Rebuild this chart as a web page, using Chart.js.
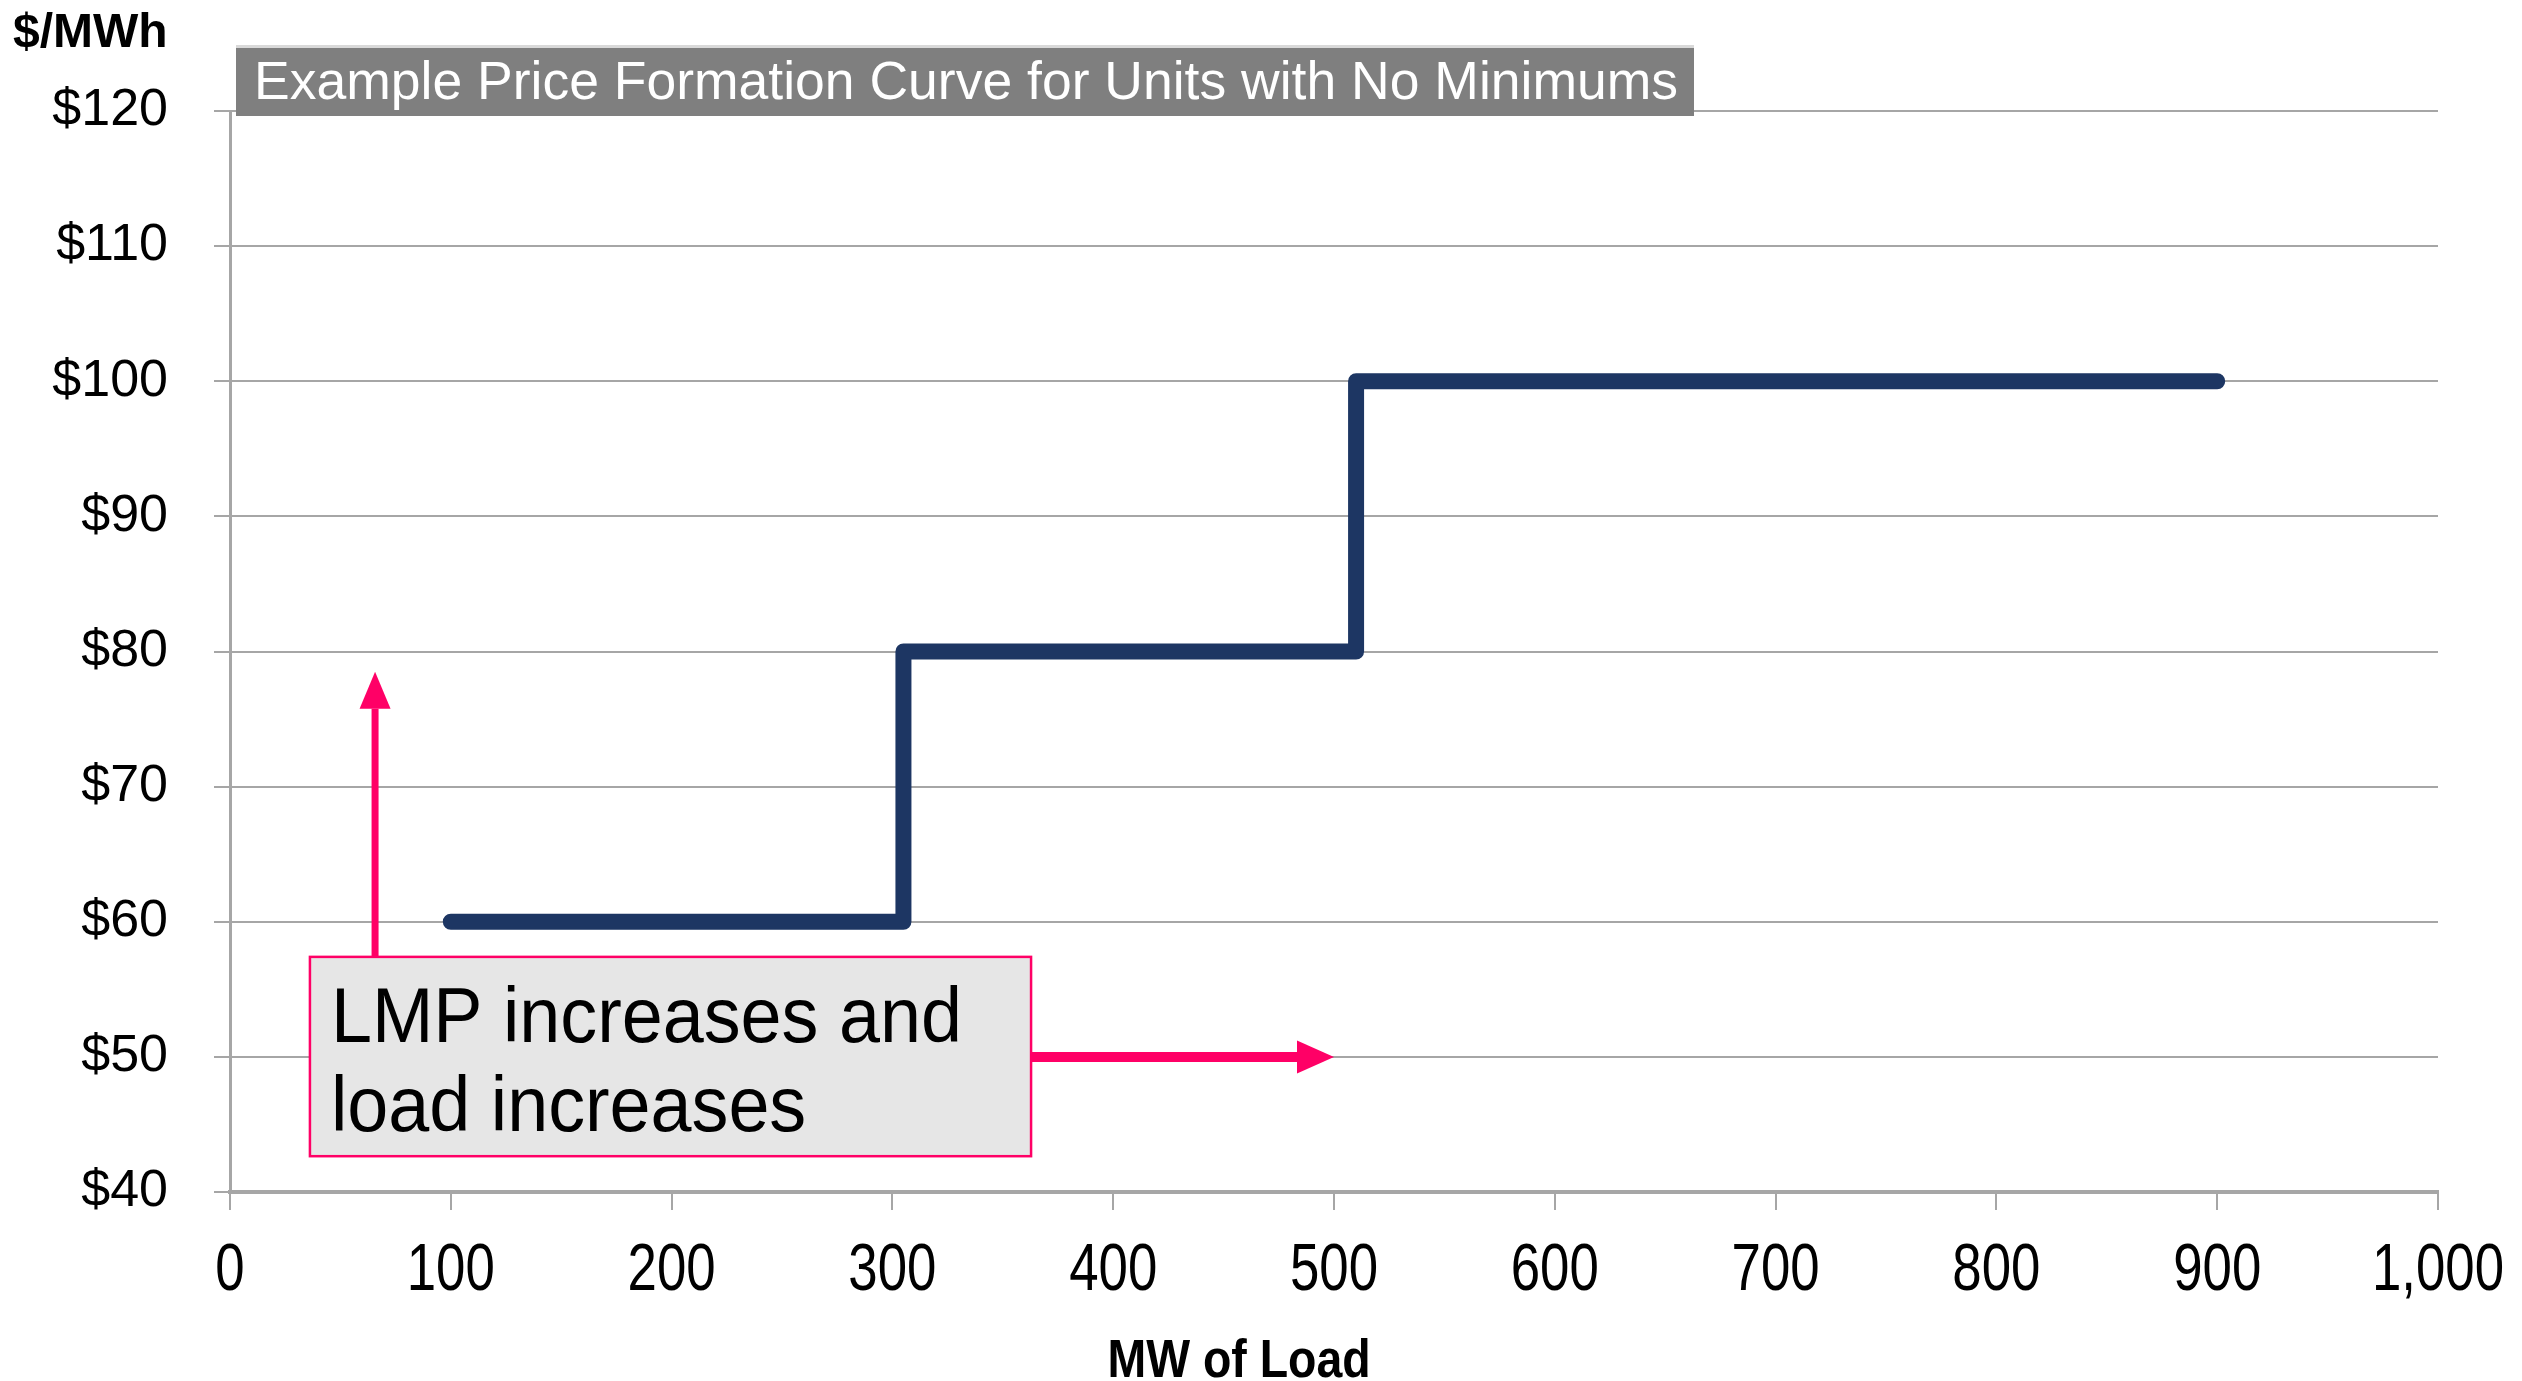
<!DOCTYPE html>
<html>
<head>
<meta charset="utf-8">
<title>Example Price Formation Curve</title>
<script src="https://cdn.jsdelivr.net/npm/chart.js@4/dist/chart.umd.min.js"></script>
<style>
  html, body { margin: 0; padding: 0; background: #ffffff; }
  #wrap { width: 2522px; height: 1381px; position: relative; }
</style>
</head>
<body>
<div id="wrap"><canvas id="chart" width="2522" height="1381"></canvas></div>
<script>
// Offer curve break points: load (MW) where each price block ends, and its price ($/MWh)
const loadMW   = [100, 305, 510, 900];
const priceUSD = [60, 80, 100, 100];

// Axis ticks
const xTickValues = [0, 100, 200, 300, 400, 500, 600, 700, 800, 900, 1000];
const yTickValues = [40, 50, 60, 70, 80, 90, 100, 110, 120];

// Text
const chartTitle  = 'Example Price Formation Curve for Units with No Minimums';
const yUnitLabel  = '$/MWh';
const xAxisLabel  = 'MW of Load';
const calloutText = ['LMP increases and', 'load increases'];

const SANS = '"Liberation Sans", Arial, Helvetica, sans-serif';
const PINK = '#ff0066';
const GRID = '#a6a6a6';

const fmtLoad = v => v.toLocaleString('en-US');

// Text squeezed horizontally, for the condensed axis lettering
function narrowText(ctx, text, x, y, sx) {
  ctx.save();
  ctx.translate(x, y);
  ctx.scale(sx, 1);
  ctx.fillText(text, 0, 0);
  ctx.restore();
}

function arrow(ctx, x1, y1, x2, y2, width, headLen, headWidth) {
  const ang = Math.atan2(y2 - y1, x2 - x1);
  const bx = x2 - Math.cos(ang) * headLen;
  const by = y2 - Math.sin(ang) * headLen;
  ctx.strokeStyle = PINK;
  ctx.fillStyle = PINK;
  ctx.lineWidth = width;
  ctx.lineCap = 'butt';
  ctx.beginPath();
  ctx.moveTo(x1, y1);
  ctx.lineTo(bx, by);
  ctx.stroke();
  const nx = -Math.sin(ang) * headWidth / 2;
  const ny = Math.cos(ang) * headWidth / 2;
  ctx.beginPath();
  ctx.moveTo(x2, y2);
  ctx.lineTo(bx + nx, by + ny);
  ctx.lineTo(bx - nx, by - ny);
  ctx.closePath();
  ctx.fill();
}

// Unit label, title banner, load tick labels, callout box and its two arrows
const decorations = {
  id: 'decorations',
  afterDraw(chart) {
    const { ctx, chartArea: a, scales: { x, y } } = chart;
    ctx.save();

    // unit label above the price axis
    ctx.font = 'bold 48px ' + SANS;
    ctx.fillStyle = '#000000';
    ctx.textAlign = 'left';
    ctx.textBaseline = 'alphabetic';
    ctx.fillText(yUnitLabel, 13, 47);

    // title banner
    const bl = a.left + 6, bt = a.top - 63, bw = 1458, bh = 68;
    ctx.fillStyle = '#d9d9d9';
    ctx.fillRect(bl, bt - 3, bw, 3);
    ctx.fillStyle = '#7f7f7f';
    ctx.fillRect(bl, bt, bw, bh);
    ctx.fillStyle = '#ffffff';
    ctx.font = '53.5px ' + SANS;
    ctx.textBaseline = 'middle';
    ctx.fillText(chartTitle, bl + 18, bt + bh / 2 + 2);

    // load axis tick labels, taken from the scale's own ticks
    ctx.fillStyle = '#000000';
    ctx.font = '66px ' + SANS;
    ctx.textAlign = 'center';
    ctx.textBaseline = 'alphabetic';
    x.ticks.forEach(t => {
      narrowText(ctx, fmtLoad(t.value), x.getPixelForValue(t.value), a.bottom + 98, 0.8);
    });

    // horizontal axis caption
    ctx.font = 'bold 54px ' + SANS;
    narrowText(ctx, xAxisLabel, x.getPixelForValue(457), 1377, 0.86);

    // callout box corners in axis units
    const boxL = x.getPixelForValue(36.2), boxR = x.getPixelForValue(362.8);
    const boxT = y.getPixelForValue(57.4), boxB = y.getPixelForValue(42.65);

    // arrows: price rising (up) and load rising (right)
    arrow(ctx, x.getPixelForValue(65.7), boxT, x.getPixelForValue(65.7), y.getPixelForValue(78.5), 7, 37, 31);
    arrow(ctx, boxR, y.getPixelForValue(50), x.getPixelForValue(500), y.getPixelForValue(50), 10, 37, 33);

    ctx.fillStyle = '#e6e6e6';
    ctx.fillRect(boxL, boxT, boxR - boxL, boxB - boxT);
    ctx.strokeStyle = PINK;
    ctx.lineWidth = 2.5;
    ctx.strokeRect(boxL, boxT, boxR - boxL, boxB - boxT);

    ctx.fillStyle = '#000000';
    ctx.font = '78px ' + SANS;
    ctx.textAlign = 'left';
    narrowText(ctx, calloutText[0], boxL + 21, boxT + 85, 0.945);
    narrowText(ctx, calloutText[1], boxL + 21, boxT + 174, 0.945);

    ctx.restore();
  }
};

const steps = loadMW.map((mw, i) => ({ x: mw, y: priceUSD[i] }));

new Chart(document.getElementById('chart'), {
  type: 'scatter',
  data: {
    datasets: [{
      label: 'Price',
      data: steps,
      showLine: true,
      stepped: 'before',
      borderColor: '#1d3663',
      backgroundColor: '#1d3663',
      borderWidth: 16,
      borderCapStyle: 'round',
      borderJoinStyle: 'round',
      pointRadius: 0,
      pointHoverRadius: 0,
      fill: false
    }]
  },
  options: {
    responsive: false,
    animation: false,
    devicePixelRatio: 1,
    layout: { padding: { top: 111, right: 84, left: 0, bottom: 0 } },
    plugins: {
      legend: { display: false },
      tooltip: { enabled: false },
      title: { display: false }
    },
    scales: {
      x: {
        type: 'linear',
        min: 0,
        max: 1000,
        afterBuildTicks: s => { s.ticks = xTickValues.map(v => ({ value: v })); },
        afterFit: s => { s.height = 189; },
        ticks: {
          display: false,
          autoSkip: false,
          maxRotation: 0,
          callback: fmtLoad
        },
        grid: {
          drawOnChartArea: false,
          drawTicks: true,
          tickLength: 18,
          color: GRID,
          lineWidth: 2
        },
        border: { color: GRID, width: 4 }
      },
      y: {
        min: 40,
        max: 120,
        afterBuildTicks: s => { s.ticks = yTickValues.map(v => ({ value: v })); },
        afterFit: s => { s.width = 230; },
        ticks: {
          padding: 46,
          color: '#000000',
          font: { family: SANS, size: 52 },
          callback: v => '$' + v
        },
        grid: {
          color: GRID,
          lineWidth: 2,
          tickLength: 16,
          drawTicks: true
        },
        border: { color: GRID, width: 3 }
      }
    }
  },
  plugins: [decorations]
});
</script>
</body>
</html>
